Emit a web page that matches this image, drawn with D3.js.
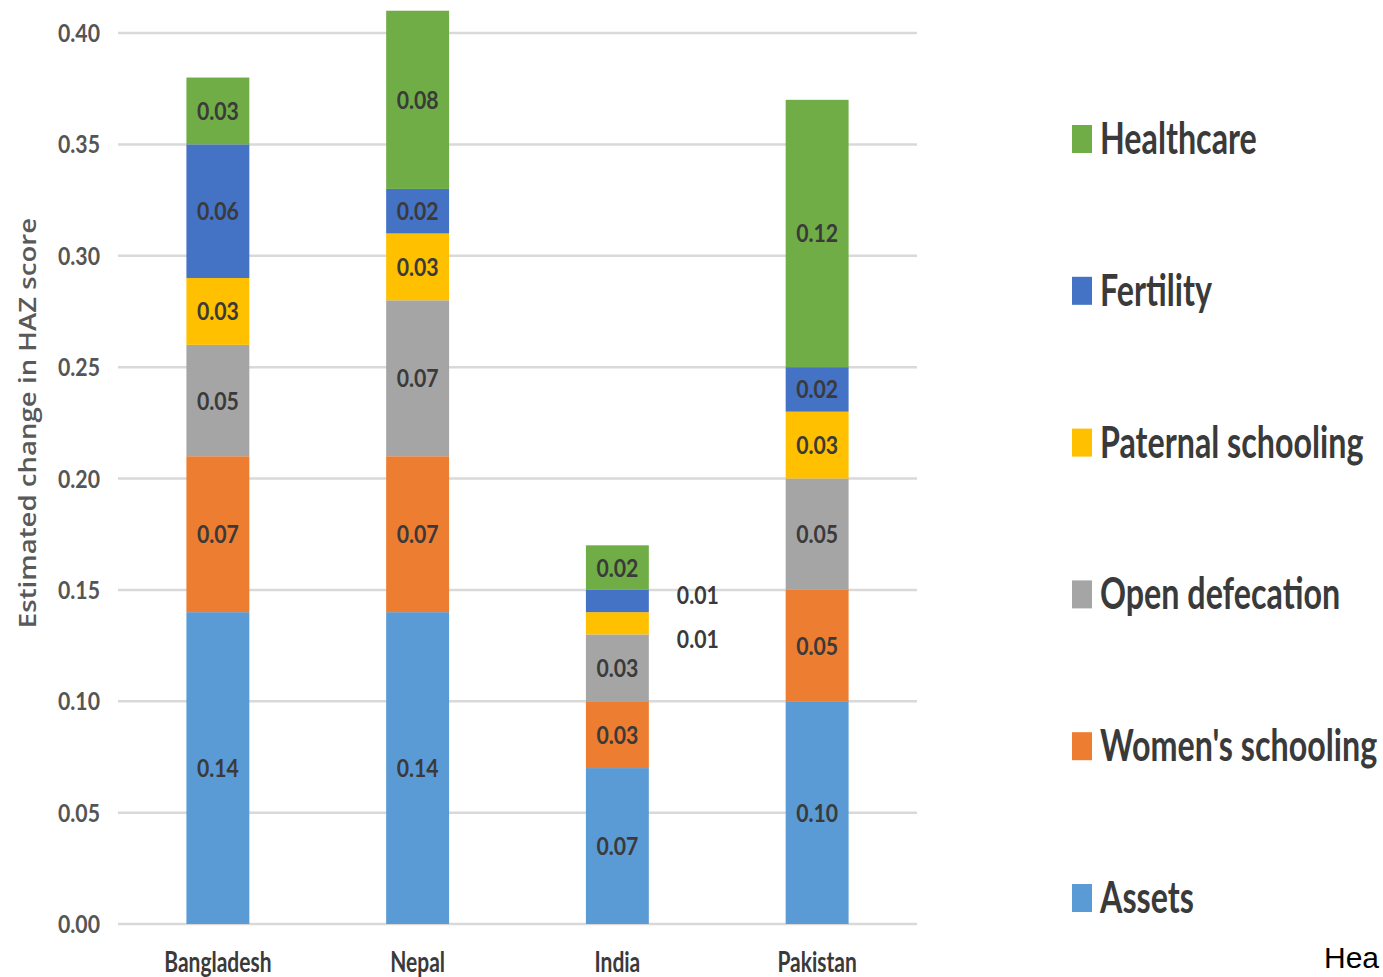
<!DOCTYPE html>
<html>
<head>
<meta charset="utf-8">
<script src="https://cdn.jsdelivr.net/npm/d3@7"></script>
<style>
  html, body { margin: 0; padding: 0; background: #fff; overflow: hidden; }
  svg { display: block; }
</style>
</head>
<body>
<script>
// Countries along the x axis
const countries = ["Bangladesh", "Nepal", "India", "Pakistan"];

// Stack components, bottom to top
const components = ["Assets", "Women's schooling", "Open defecation", "Paternal schooling", "Fertility", "Healthcare"];

// Contribution of each component to the change in HAZ score, per country
const assets            = [0.14, 0.14, 0.07, 0.10];
const womensSchooling   = [0.07, 0.07, 0.03, 0.05];
const openDefecation    = [0.05, 0.07, 0.03, 0.05];
const paternalSchooling = [0.03, 0.03, 0.01, 0.03];
const fertility         = [0.06, 0.02, 0.01, 0.02];
const healthcare        = [0.03, 0.08, 0.02, 0.12];

const yTicks = [0, 0.05, 0.10, 0.15, 0.20, 0.25, 0.30, 0.35, 0.40];

const colors = ["#5B9BD5", "#ED7D31", "#A5A5A5", "#FFC000", "#4472C4", "#70AD47"];

const W = 1383, H = 977;
const series = [assets, womensSchooling, openDefecation, paternalSchooling, fertility, healthcare];

const rows = countries.map((c, i) => {
  const r = { country: c };
  components.forEach((k, j) => { r[k] = series[j][i]; });
  return r;
});

const stack = d3.stack().keys(components)(rows);

const svg = d3.select("body").append("svg").attr("width", W).attr("height", H);

const x = d3.scaleBand().domain(countries).range([118, 917]).paddingInner(0.685).paddingOuter(0.3425);
const y = d3.scaleLinear().domain([0, 0.4]).range([924, 33]);

const labelFont = "Lato, 'Open Sans', sans-serif";
const textColor = "#3a3a3a";

// horizontal gridlines
svg.append("g").selectAll("line").data(yTicks).join("line")
  .attr("x1", 118).attr("x2", 917)
  .attr("y1", d => y(d)).attr("y2", d => y(d))
  .attr("stroke", "#d9d9d9").attr("stroke-width", 2.5);

// y axis tick labels
const yAxis = svg.append("g").attr("transform", "translate(100,0)")
  .call(d3.axisLeft(y).tickValues(yTicks).tickFormat(d3.format(".2f")).tickSize(0).tickPadding(0));
yAxis.select(".domain").remove();
yAxis.selectAll("text")
  .attr("x", null).attr("dy", null)
  .attr("transform", d => `translate(0,${y(d) + 9}) scale(0.85,1)`)
  .attr("y", 0)
  .attr("text-anchor", "end")
  .style("font-family", labelFont).style("font-size", "25px").style("font-weight", 700)
  .attr("fill", "#555");
yAxis.selectAll(".tick").attr("transform", null);

// x axis category labels
const xAxis = svg.append("g").attr("transform", "translate(0,924)")
  .call(d3.axisBottom(x).tickSize(0).tickPadding(0));
xAxis.select(".domain").remove();
xAxis.selectAll("text")
  .attr("y", 0).attr("dy", null)
  .attr("transform", "translate(0,48) scale(0.75,1)")
  .style("font-family", labelFont).style("font-size", "28px").style("font-weight", 700)
  .attr("fill", textColor);

// y axis title
svg.append("text")
  .attr("transform", `translate(36,${(218 + 628) / 2}) rotate(-90) scale(1.15,1)`)
  .attr("text-anchor", "middle")
  .style("font-family", "'Open Sans', sans-serif").style("font-size", "24px").style("font-weight", 600)
  .attr("fill", "#595959")
  .text("Estimated change in HAZ score");

// stacked bars
const layers = svg.append("g").selectAll("g").data(stack).join("g")
  .attr("fill", (d, i) => colors[i]);
layers.selectAll("rect").data(d => d).join("rect")
  .attr("x", d => x(d.data.country))
  .attr("width", x.bandwidth())
  .attr("y", d => y(d[1]))
  .attr("height", d => y(d[0]) - y(d[1]));

// value labels: inside the segment when it is tall enough, otherwise to the right of the bar
const labelG = svg.append("g");
const minInside = 30;
countries.forEach((c, ci) => {
  const outside = [];
  stack.forEach((layer, li) => {
    const d = layer[ci];
    const v = d[1] - d[0];
    const cy = (y(d[0]) + y(d[1])) / 2;
    if (y(d[0]) - y(d[1]) >= minInside) {
      labelG.append("text")
        .attr("transform", `translate(${x(c) + x.bandwidth() / 2},${cy + 9}) scale(0.85,1)`)
        .attr("text-anchor", "middle")
        .style("font-family", labelFont).style("font-size", "25px").style("font-weight", 700)
        .attr("fill", textColor)
        .text(d3.format(".2f")(v));
    } else {
      outside.push({ v, cy });
    }
  });
  if (outside.length) {
    const gap = 44;
    const mean = d3.mean(outside, o => o.cy) + 5;
    // topmost segment first
    outside.sort((a, b) => a.cy - b.cy);
    outside.forEach((o, k) => {
      const py = mean + (k - (outside.length - 1) / 2) * gap;
      labelG.append("text")
        .attr("transform", `translate(${x(c) + x.bandwidth() + 49},${py + 9}) scale(0.85,1)`)
        .attr("text-anchor", "middle")
        .style("font-family", labelFont).style("font-size", "25px").style("font-weight", 700)
        .attr("fill", textColor)
        .text(d3.format(".2f")(o.v));
    });
  }
});

// legend, top entry is the top of the stack
const legendItems = components.slice().reverse();
const legendY = d3.scalePoint().domain(legendItems).range([139, 898]);
const legend = svg.append("g").selectAll("g").data(legendItems).join("g")
  .attr("transform", d => `translate(1072,${legendY(d)})`);
legend.append("rect")
  .attr("x", 0).attr("y", -14).attr("width", 20).attr("height", 28)
  .attr("fill", d => colors[components.indexOf(d)]);
legend.append("text")
  .attr("transform", "translate(28,15) scale(0.75,1)")
  .style("font-family", labelFont).style("font-size", "43px").style("font-weight", 700)
  .attr("fill", textColor)
  .text(d => d);

// caption fragment at the bottom right edge
svg.append("text")
  .attr("x", 1324).attr("y", 968)
  .style("font-family", "'Liberation Sans', Arial, sans-serif").style("font-size", "30px")
  .attr("fill", "#000")
  .text("Hea");
</script>
</body>
</html>
